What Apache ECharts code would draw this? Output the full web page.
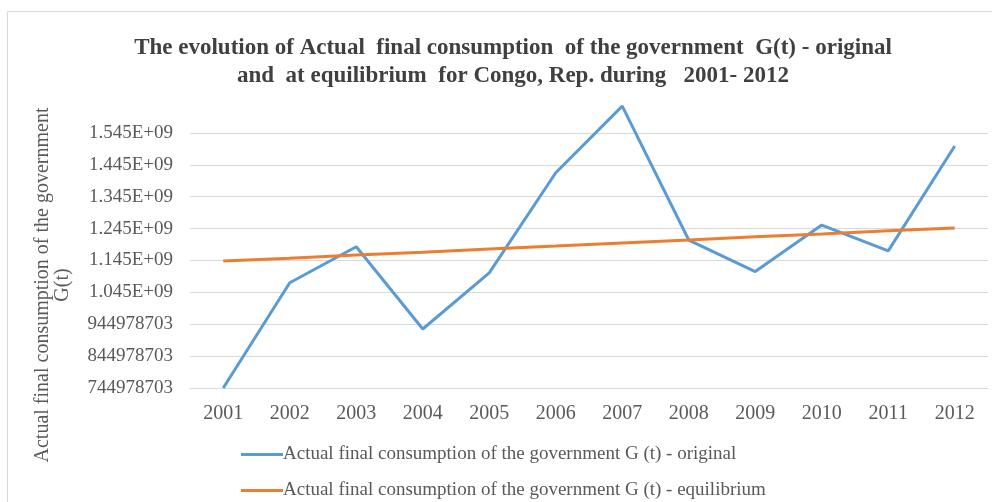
<!DOCTYPE html>
<html lang="en">
  <head>
    <meta charset="UTF-8" />
    <title>ECharts</title>
    <script src="https://cdn.jsdelivr.net/npm/echarts@6/dist/echarts.min.js"></script>
    <style>
      html, body { margin: 0; padding: 0; background: #fff; }
    </style>
  </head>

  <body>
    <div id="main" style="width: 992px; height: 502px"></div>

    <script type="text/javascript">
      // data
      var years = ["2001", "2002", "2003", "2004", "2005", "2006", "2007", "2008", "2009", "2010", "2011", "2012"];
      var original = [745000000, 1075000000, 1188000000, 930000000, 1106000000, 1420000000, 1629000000, 1209000000, 1110000000, 1256000000, 1175000000, 1504000000];
      var equilibrium = [1143000000, 1152000000, 1162000000, 1171000000, 1181000000, 1190000000, 1200000000, 1209000000, 1219000000, 1228000000, 1238000000, 1247000000];
      var yMin = 744978703;
      var yStep = 100000000;
      var yMax = 1644978703;
      var nameOrig = "Actual final consumption of the government G (t) - original";
      var nameEq = "Actual final consumption of the government G (t) - equilibrium";

      var serif = "'Liberation Serif', 'DejaVu Serif', serif";
      var grey = "#595959";

      var myChart = echarts.init(document.getElementById("main"));

      function fmt(v) {
        if (v >= 1e9) return (v / 1e9).toFixed(3) + "E+09";
        return String(Math.round(v));
      }

      // one legend per row, like the original
      function legendRow(name, top) {
        return {
          left: 236,
          top: top,
          itemWidth: 42,
          itemHeight: 3,
          icon: "rect",
          selectedMode: false,
          textStyle: { fontFamily: serif, fontSize: 19, color: grey, padding: [0, 0, 0, -5] },
          data: [name],
        };
      }

      var option = {
        animation: false,
        backgroundColor: "#fff",
        title: {
          text: "The evolution of Actual  final consumption  of the government  G(t) - original\nand  at equilibrium  for Congo, Rep. during   2001- 2012",
          left: 508,
          textAlign: "center",
          top: 29,
          textStyle: {
            fontFamily: serif,
            fontWeight: "bold",
            fontSize: 23,
            lineHeight: 28,
            color: "#404040",
          },
        },
        legend: [legendRow(nameOrig, 440), legendRow(nameEq, 476)],
        grid: { left: 190, right: 4, top: 101, bottom: 114 },
        xAxis: {
          type: "category",
          data: years,
          boundaryGap: true,
          axisLine: { lineStyle: { color: "#d9d9d9" } },
          axisTick: { show: false },
          axisLabel: { fontFamily: serif, fontSize: 20, color: grey, margin: 16 },
        },
        yAxis: {
          type: "value",
          min: yMin,
          max: yMax,
          interval: yStep,
          axisLine: { show: false },
          axisTick: { show: false },
          axisLabel: {
            fontFamily: serif,
            fontSize: 19,
            color: grey,
            margin: 17,
            showMaxLabel: false,
            formatter: fmt,
          },
          splitLine: { showMaxLine: false, lineStyle: { color: "#d9d9d9" } },
        },
        graphic: [
          {
            type: "rect",
            shape: { x: 7.5, y: 11.5, width: 1000, height: 600 },
            style: { fill: "none", stroke: "#d9d9d9", lineWidth: 1 },
            silent: true,
          },
          {
            type: "text",
            x: 53,
            y: 285,
            rotation: Math.PI / 2,
            style: {
              text: "Actual final consumption of the government\nG(t)",
              fontFamily: serif,
              fontSize: 20,
              lineHeight: 20,
              fill: grey,
              align: "center",
              verticalAlign: "middle",
            },
          },
        ],
        series: [
          {
            name: nameOrig,
            type: "line",
            data: original,
            symbol: "none",
            color: "#5b9bd5",
            lineStyle: { width: 3, color: "#5b9bd5" },
          },
          {
            name: nameEq,
            type: "line",
            data: equilibrium,
            symbol: "none",
            color: "#ed7d31",
            lineStyle: { width: 3, color: "#ed7d31" },
          },
        ],
      };

      myChart.setOption(option);
    </script>
  </body>
</html>
